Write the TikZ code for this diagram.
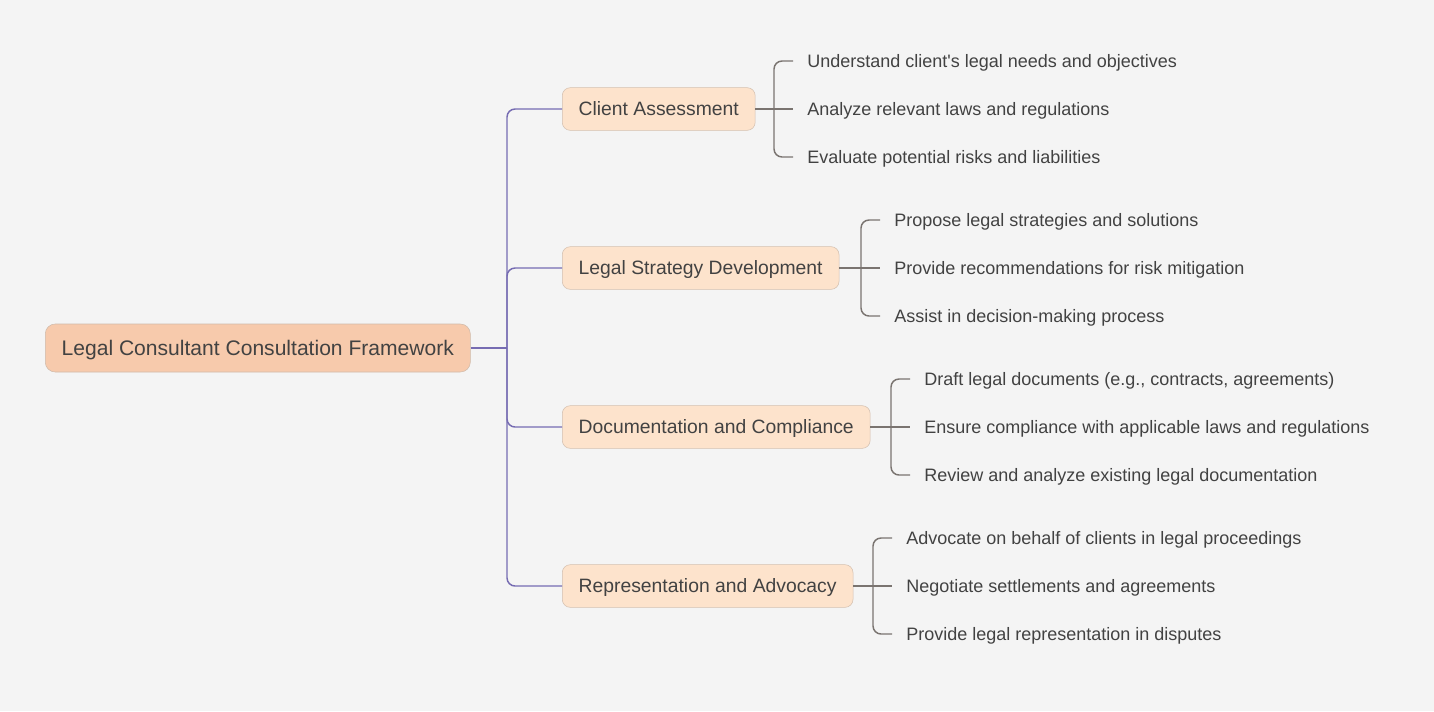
\documentclass[tikz,border=0pt]{standalone}
\usepackage{fontspec}
\setmainfont{Liberation Sans}[Ligatures=TeXOff]
\usetikzlibrary{calc}
\definecolor{pagebg}{RGB}{244,244,244}
\definecolor{rootfill}{RGB}{247,202,172}
\definecolor{rootdraw}{RGB}{208,186,170}
\definecolor{subfill}{RGB}{253,227,204}
\definecolor{subdraw}{RGB}{212,192,176}
\definecolor{trunk}{RGB}{118,108,178}
\definecolor{twig}{RGB}{122,116,112}
\definecolor{inktext}{RGB}{66,66,66}

\begin{document}
\begin{tikzpicture}[x=0.75pt, y=-0.75pt,
  root/.style={rectangle, rounded corners=7.5pt, draw=rootdraw, fill=rootfill, text=inktext, font=\fontsize{15.8}{18}\selectfont, minimum height=36pt, inner xsep=12.3pt, text height=11.3pt, text depth=0pt, anchor=west},
  topic/.style={rectangle, rounded corners=6pt, draw=subdraw, fill=subfill, text=inktext, font=\fontsize{14.5}{17}\selectfont, minimum height=32pt, inner xsep=12.3pt, text height=10.4pt, text depth=0pt, anchor=west},
  leaf/.style={anchor=west, text=inktext, font=\fontsize{13.5}{16}\selectfont, inner xsep=10.5pt, inner ysep=0pt, text height=9.7pt, text depth=0pt},
  branch/.style={draw=trunk, line width=1.1pt, rounded corners=6pt},
  twigline/.style={draw=twig, line width=1.1pt, rounded corners=6pt}
]
  \fill[pagebg] (0,0) rectangle (1434,711);
  \useasboundingbox (0,0) rectangle (1434,711);

  % centre and main topics
  \node[root] (root) at (45,348) {Legal Consultant Consultation Framework};
  \coordinate (hub) at (507,348);
  \node[topic] (assess) at (562,109) {Client Assessment};
  \node[topic] (strategy) at (562,268) {Legal Strategy Development};
  \node[topic] (docs) at (562,427) {Documentation and Compliance};
  \node[topic] (advocacy) at (562,586) {Representation and Advocacy};

  \draw[branch] (root.east) -- (hub);
  \foreach \n in {assess,strategy,docs,advocacy} {
    \draw[branch] (hub) |- (\n.west);
  }

  % details
  \coordinate (assess-fork) at (774,109);
  \node[leaf] (assess1) at (793,61) {Understand client's legal needs and objectives};
  \node[leaf] (assess2) at (793,109) {Analyze relevant laws and regulations};
  \node[leaf] (assess3) at (793,157) {Evaluate potential risks and liabilities};

  \coordinate (strategy-fork) at (861,268);
  \node[leaf] (strategy1) at (880,220) {Propose legal strategies and solutions};
  \node[leaf] (strategy2) at (880,268) {Provide recommendations for risk mitigation};
  \node[leaf] (strategy3) at (880,316) {Assist in decision-making process};

  \coordinate (docs-fork) at (891,427);
  \node[leaf] (docs1) at (910,379) {Draft legal documents (e.g., contracts, agreements)};
  \node[leaf] (docs2) at (910,427) {Ensure compliance with applicable laws and regulations};
  \node[leaf] (docs3) at (910,475) {Review and analyze existing legal documentation};

  \coordinate (advocacy-fork) at (873,586);
  \node[leaf] (advocacy1) at (892,538) {Advocate on behalf of clients in legal proceedings};
  \node[leaf] (advocacy2) at (892,586) {Negotiate settlements and agreements};
  \node[leaf] (advocacy3) at (892,634) {Provide legal representation in disputes};

  \foreach \n in {assess,strategy,docs,advocacy} {
    \draw[twigline] (\n.east) -- (\n2.west);
    \draw[twigline] (\n1.west) -| (\n-fork) |- (\n3.west);
  }
\end{tikzpicture}
\end{document}
